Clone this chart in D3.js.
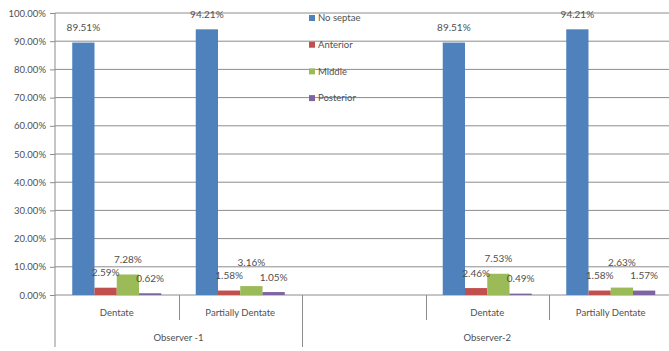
<!DOCTYPE html>
<html>
<head>
<meta charset="utf-8">
<script src="https://cdn.jsdelivr.net/npm/d3@7"></script>
<style>
  html, body { margin: 0; padding: 0; background: #fff; }
  svg { display: block; font-family: Lato, "Open Sans", sans-serif; }
</style>
</head>
<body>
<svg id="chart" width="669" height="351"></svg>
<script>
// Slots along the x axis: [group, category]; the empty slot has no bars.
const groups = ["Observer -1", "Observer-2"];
const slotGroup = ["Observer -1", "Observer -1", "Observer-2", "Observer-2", "Observer-2"];
const slotLabel = ["Dentate", "Partially Dentate", "", "Dentate", "Partially Dentate"];

const seriesNames = ["No septae", "Anterior", "Middle", "Posterior"];
const seriesColors = ["#4F81BD", "#C0504D", "#9BBB59", "#8064A2"];

// Percentages per slot (null = no data in that slot)
const noSeptae  = [89.51, 94.21, null, 89.51, 94.21];
const anterior  = [2.59, 1.58, null, 2.46, 1.58];
const middle    = [7.28, 3.16, null, 7.53, 2.63];
const posterior = [0.62, 1.05, null, 0.49, 1.57];
const seriesValues = [noSeptae, anterior, middle, posterior];

const yTicks = [0, 10, 20, 30, 40, 50, 60, 70, 80, 90, 100];

const svg = d3.select("#chart");
const plotLeft = 55, plotRight = 672.5, plotTop = 13, plotBottom = 295;
const textColor = "#505050";
const gridColor = "#8c8c8c";

const y = d3.scaleLinear().domain([0, 100]).range([plotBottom, plotTop]);
const x = d3.scaleBand().domain(d3.range(slotLabel.length)).range([plotLeft, plotRight]).padding(0);
const xs = d3.scaleBand().domain(d3.range(seriesNames.length))
  .range([0, x.bandwidth()]).paddingInner(0).paddingOuter(0.775);

// Y axis with gridlines
const yAxis = d3.axisLeft(y).tickValues(yTicks)
  .tickFormat(d => d.toFixed(2) + "%")
  .tickSize(5).tickPadding(4);
const yg = svg.append("g").attr("transform", `translate(${plotLeft},0)`).call(yAxis);
yg.select(".domain").remove();
yg.selectAll(".tick line").attr("stroke", gridColor);
yg.selectAll(".tick text").attr("fill", textColor).style("font-size", "9.5px")
  .style("font-family", "Lato, sans-serif");

svg.append("g").selectAll("line").data(yTicks).join("line")
  .attr("x1", plotLeft).attr("x2", 669)
  .attr("y1", d => y(d)).attr("y2", d => y(d))
  .attr("stroke", gridColor).attr("stroke-width", 1);

// vertical axis line
svg.append("line").attr("x1", plotLeft).attr("x2", plotLeft)
  .attr("y1", plotTop).attr("y2", 347).attr("stroke", gridColor);

// Category separators: short between slots, long at group boundaries
const boundaries = d3.range(1, slotLabel.length);
svg.append("g").selectAll("line").data(boundaries).join("line")
  .attr("x1", i => Math.round(x(i)) + 0.5).attr("x2", i => Math.round(x(i)) + 0.5)
  .attr("y1", plotBottom)
  .attr("y2", i => slotGroup[i] !== slotGroup[i - 1] ? 347 : 320)
  .attr("stroke", gridColor);

// Bars
const barData = [];
seriesValues.forEach((vals, s) => vals.forEach((v, c) => {
  if (v != null) barData.push({ s, c, v });
}));
svg.append("g").selectAll("rect").data(barData).join("rect")
  .attr("x", d => x(d.c) + xs(d.s))
  .attr("width", xs.bandwidth())
  .attr("y", d => y(d.v))
  .attr("height", d => y(0) - y(d.v))
  .attr("fill", d => seriesColors[d.s]);

// Value labels; lift a label when it would collide with its left neighbour
const labels = barData.map(d => ({ ...d, ly: y(d.v) - 15 }));
labels.forEach(d => {
  const prev = labels.find(p => p.c === d.c && p.s === d.s - 1);
  if (prev && Math.abs(d.ly - prev.ly) < 12 && d.v > prev.v) d.ly = prev.ly - 13;
});
svg.append("g").selectAll("text").data(labels).join("text")
  .attr("x", d => x(d.c) + xs(d.s) + xs.bandwidth() / 2)
  .attr("y", d => d.ly)
  .attr("dy", "0.35em")
  .attr("text-anchor", "middle")
  .attr("fill", textColor)
  .style("font-size", "10px")
  .text(d => d.v.toFixed(2) + "%");

// Category labels
svg.append("g").selectAll("text").data(slotLabel).join("text")
  .attr("x", (d, i) => x(i) + x.bandwidth() / 2)
  .attr("y", 313).attr("dy", "0.35em")
  .attr("text-anchor", "middle").attr("fill", textColor)
  .style("font-size", "9.5px")
  .text(d => d);

// Group labels
svg.append("g").selectAll("text").data(groups).join("text")
  .attr("x", g => {
    const idx = slotGroup.map((s, i) => s === g ? i : -1).filter(i => i >= 0);
    return (x(idx[0]) + x(idx[idx.length - 1]) + x.bandwidth()) / 2;
  })
  .attr("y", 338).attr("dy", "0.35em")
  .attr("text-anchor", "middle").attr("fill", textColor)
  .style("font-size", "9.5px")
  .text(d => d);

// Legend
const legend = svg.append("g").attr("transform", "translate(309,18)");
const li = legend.selectAll("g").data(seriesNames).join("g")
  .attr("transform", (d, i) => `translate(0,${i * 26.7})`);
li.append("rect").attr("x", 0).attr("y", -3).attr("width", 6).attr("height", 6)
  .attr("fill", (d, i) => seriesColors[i]);
li.append("text").attr("x", 9).attr("y", 0).attr("dy", "0.35em")
  .attr("fill", textColor).style("font-size", "9.5px").text(d => d);
</script>
</body>
</html>
